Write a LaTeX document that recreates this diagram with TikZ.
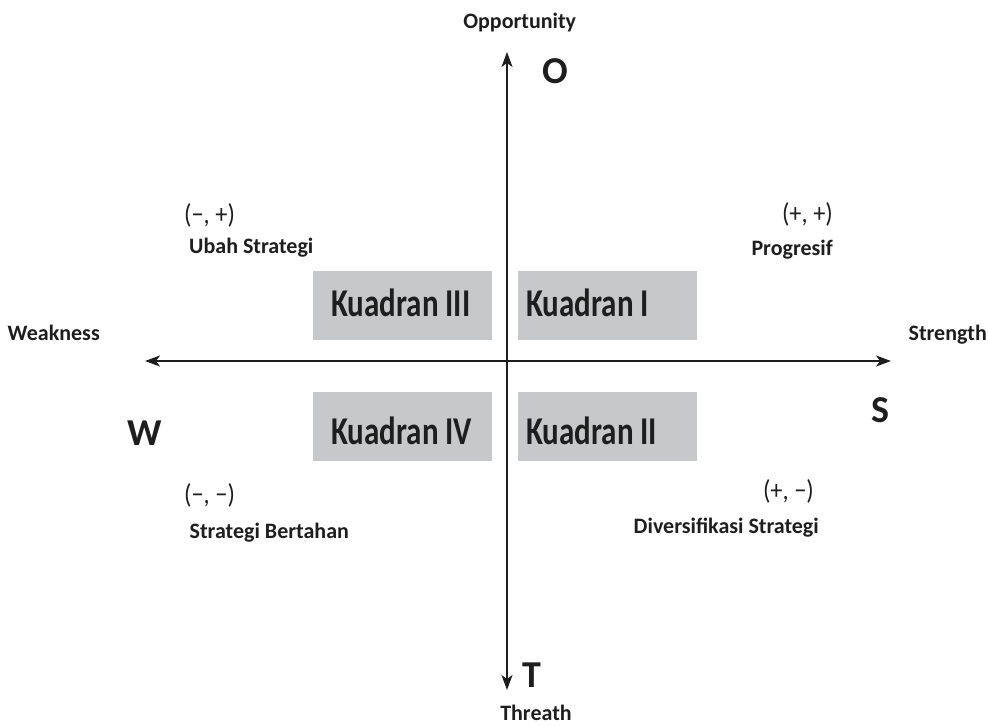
\documentclass[tikz,border=0pt]{standalone}
\usepackage{fontspec}
\setmainfont{Carlito}
\usetikzlibrary{arrows.meta}
\definecolor{boxgray}{HTML}{C7C8CA}
\definecolor{ink}{HTML}{1E1E1E}
\tikzset{
  axis/.style={draw=ink, line width=1.3pt, -{Stealth[length=15pt,width=11pt,inset=4pt]}},
  quadbox/.style={fill=boxgray, draw=none},
  quadtext/.style={inner sep=0pt, anchor=base west, text=ink, font=\fontsize{31}{34}\selectfont\bfseries},
  lbl/.style={inner sep=0pt, text=ink, font=\fontsize{22}{26}\selectfont\bfseries},
  pair/.style={inner sep=0pt, text=ink, font=\fontsize{24.4}{28}\selectfont},
  big/.style={inner sep=0pt, anchor=base, text=ink, font=\fontsize{38}{40}\selectfont\bfseries},
}
\begin{document}
\begin{tikzpicture}[x=1pt,y=-1pt]
\useasboundingbox (0,0) rectangle (988,726);
% quadrant boxes
\fill[quadbox] (312.7,271) rectangle (492,340);
\fill[quadbox] (518.3,271) rectangle (696.7,340);
\fill[quadbox] (312.7,392.3) rectangle (492,461);
\fill[quadbox] (518.3,392.3) rectangle (696.7,461);
\node[quadtext] (q3) at (331,316.7) {\scalebox{1}[1.27]{Kuadran III}};
\node[quadtext] (q1) at (526,316.7) {\scalebox{1}[1.27]{Kuadran I}};
\node[quadtext] (q4) at (331,444.3) {\scalebox{1}[1.27]{Kuadran IV}};
\node[quadtext] (q2) at (526,444.3) {\scalebox{1}[1.27]{Kuadran II}};
% axes
\coordinate (ctr) at (507,361);
\coordinate (top) at (507,52);
\coordinate (bot) at (507,690);
\coordinate (lft) at (145,361);
\coordinate (rgt) at (891,361);
\draw[axis] (ctr) -- (top);
\draw[axis] (ctr) -- (bot);
\draw[axis] (ctr) -- (lft);
\draw[axis] (ctr) -- (rgt);
% axis labels
\node[lbl, anchor=base] (opp) at (519.7,28.3) {Opportunity};
\node[lbl, anchor=base] (thr) at (536,720.7) {Threath};
\node[lbl, anchor=base west] (weak) at (7.5,340.7) {Weakness};
\node[lbl, anchor=base east] (str) at (987,340.7) {Strength};
% big letters
\node[big] (O) at (555,83.3) {O};
\node[big] (W) at (145,445) {W};
\node[big] (S) at (880,422) {S};
\node[big] (T) at (531.7,687.7) {T};
% quadrant labels
\node[pair, anchor=west] (p3) at (184,215) {\scalebox{1}[1.12]{(−, +)}};
\node[lbl, anchor=base west] (l3) at (189,253.3) {Ubah Strategi};
\node[pair, anchor=east] (p1) at (833,214) {\scalebox{1}[1.12]{(+, +)}};
\node[lbl, anchor=base east] (l1) at (833,255) {Progresif};
\node[pair, anchor=west] (p4) at (184,495) {\scalebox{1}[1.12]{(−, −)}};
\node[lbl, anchor=base west] (l4) at (189.5,538.3) {Strategi Bertahan};
\node[pair, anchor=east] (p2) at (814,491) {\scalebox{1}[1.12]{(+, −)}};
\node[lbl, anchor=base east] (l2) at (819,533.3) {Diversifikasi Strategi};
\end{tikzpicture}
\end{document}
